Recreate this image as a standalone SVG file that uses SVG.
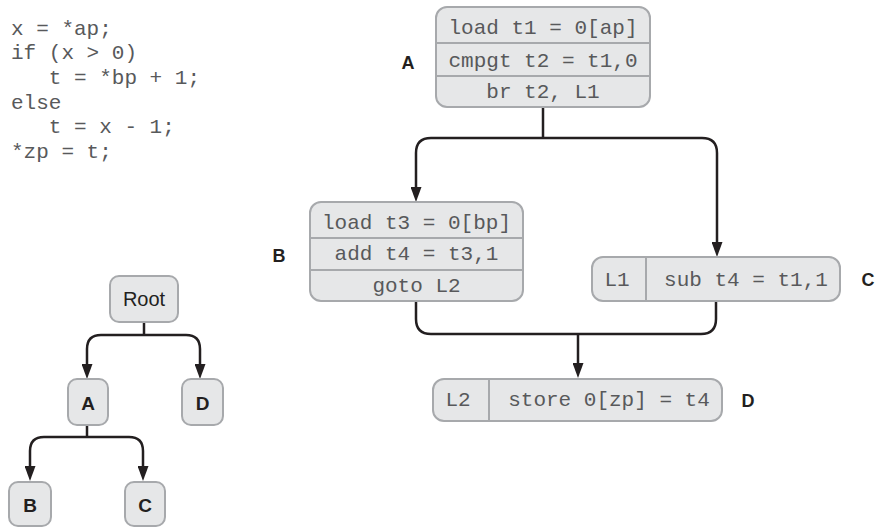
<svg xmlns="http://www.w3.org/2000/svg" width="878" height="527" viewBox="0 0 878 527">
<defs>
<style>
.box{fill:#e6e7e8;stroke:#a7a9ac;stroke-width:2}
.div{stroke:#a7a9ac;stroke-width:2;fill:none}
.code{font-family:"Liberation Mono","DejaVu Sans Mono",monospace;font-size:21px;fill:#58595b}
.mid{text-anchor:middle}
.lbl{font-family:"Liberation Sans",Arial,sans-serif;font-size:18px;font-weight:bold;fill:#231f20;text-anchor:middle}
.tlbl{font-family:"Liberation Sans",Arial,sans-serif;font-size:19px;font-weight:bold;fill:#231f20;text-anchor:middle}
.edge{fill:none;stroke:#231f20;stroke-width:2.5}
</style>
<marker id="arr" viewBox="0 0 15 11" refX="4" refY="5.5" markerWidth="15" markerHeight="11" markerUnits="userSpaceOnUse" orient="auto">
<path d="M0,0 L15,5.5 L0,11 z" fill="#231f20"/>
</marker>
</defs>
<rect width="878" height="527" fill="#ffffff"/>

<g id="source">
<text class="code" x="11" y="34.5">x = *ap;</text>
<text class="code" x="11" y="59">if (x &gt; 0)</text>
<text class="code" x="11" y="84" xml:space="preserve">   t = *bp + 1;</text>
<text class="code" x="11" y="108.5">else</text>
<text class="code" x="11" y="133" xml:space="preserve">   t = x - 1;</text>
<text class="code" x="11" y="157.5">*zp = t;</text>
</g>

<g id="connectors">
<path class="edge" d="M543,107 V138"/>
<path class="edge" d="M543,138 H431 Q416,138 416,153 V191" marker-end="url(#arr)"/>
<path class="edge" d="M543,138 H702 Q717,138 717,153 V246" marker-end="url(#arr)"/>
<path class="edge" d="M416,301 V319 Q416,334 431,334 H701 Q716,334 716,319 V301"/>
<path class="edge" d="M578,334 V367" marker-end="url(#arr)"/>
<path class="edge" d="M144,322 V335"/>
<path class="edge" d="M144,335 H101 Q87,335 87,349 V368" marker-end="url(#arr)"/>
<path class="edge" d="M144,335 H186 Q200,335 200,349 V368" marker-end="url(#arr)"/>
<path class="edge" d="M87,425 V437"/>
<path class="edge" d="M87,437 H44 Q30,437 30,451 V470" marker-end="url(#arr)"/>
<path class="edge" d="M87,437 H129 Q143,437 143,451 V470" marker-end="url(#arr)"/>
</g>

<g id="blockA">
<rect class="box" x="436" y="7" width="214" height="100" rx="11"/>
<path class="div" d="M436,43 H650 M436,76 H650"/>
<text class="code mid" x="543" y="34">load t1 = 0[ap]</text>
<text class="code mid" x="543" y="67">cmpgt t2 = t1,0</text>
<text class="code mid" x="543" y="98">br t2, L1</text>
<text class="lbl" x="408" y="68.5">A</text>
</g>

<g id="blockB">
<rect class="box" x="310" y="202" width="213" height="99" rx="11"/>
<path class="div" d="M310,238 H523 M310,270 H523"/>
<text class="code mid" x="416.5" y="229">load t3 = 0[bp]</text>
<text class="code mid" x="416.5" y="260">add t4 = t3,1</text>
<text class="code mid" x="416.5" y="292">goto L2</text>
<text class="lbl" x="279" y="261.5">B</text>
</g>

<g id="blockC">
<rect class="box" x="592" y="257" width="248" height="44" rx="11"/>
<path class="div" d="M646,257 V301"/>
<text class="code mid" x="617" y="286">L1</text>
<text class="code mid" x="746" y="286">sub t4 = t1,1</text>
<text class="lbl" x="868" y="285.5">C</text>
</g>

<g id="blockD">
<rect class="box" x="433" y="379" width="289" height="42" rx="11"/>
<path class="div" d="M489,379 V421"/>
<text class="code mid" x="458" y="406">L2</text>
<text class="code mid" x="609" y="406">store 0[zp] = t4</text>
<text class="lbl" x="748" y="406.5">D</text>
</g>

<g id="treeRoot">
<rect class="box" x="110" y="276" width="68" height="46" rx="9"/>
<text x="144" y="306" text-anchor="middle" font-family="Liberation Sans, Arial, sans-serif" font-size="20" fill="#231f20">Root</text>
</g>
<g id="treeA">
<rect class="box" x="68" y="379" width="40" height="46" rx="9"/>
<text class="tlbl" x="88" y="410">A</text>
</g>
<g id="treeD">
<rect class="box" x="182" y="379" width="41" height="46" rx="9"/>
<text class="tlbl" x="202.5" y="410">D</text>
</g>
<g id="treeB">
<rect class="box" x="9" y="482" width="42" height="44" rx="9"/>
<text class="tlbl" x="30" y="512">B</text>
</g>
<g id="treeC">
<rect class="box" x="125" y="482" width="40" height="44" rx="9"/>
<text class="tlbl" x="145" y="512">C</text>
</g>
</svg>
